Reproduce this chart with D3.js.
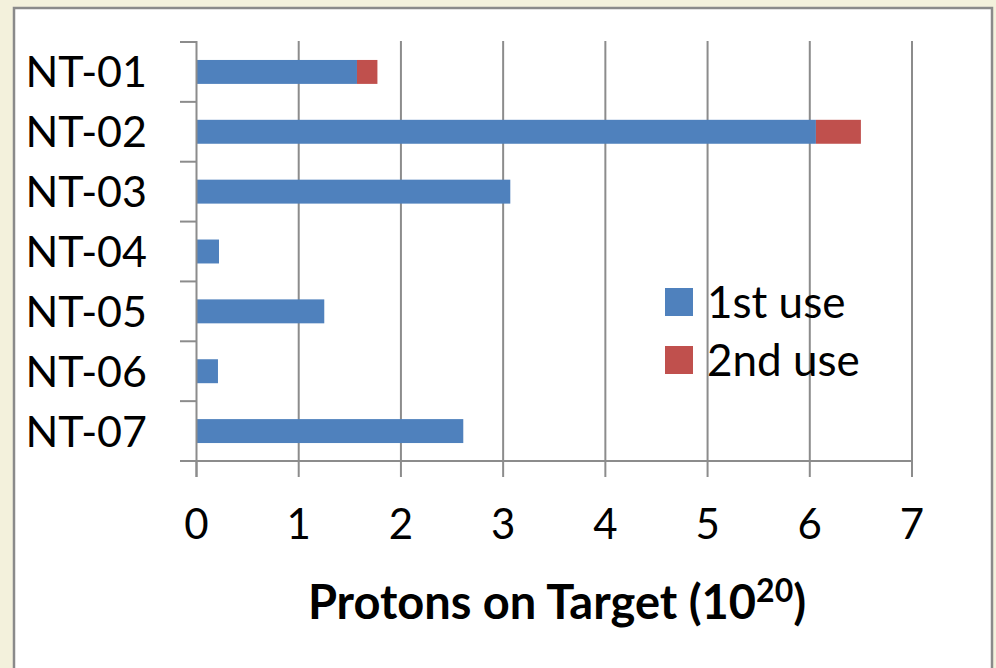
<!DOCTYPE html>
<html>
<head>
<meta charset="utf-8">
<script src="https://cdn.jsdelivr.net/npm/d3@7"></script>
<style>
  body { margin: 0; background: #f3f1dc; }
  svg { display: block; }
  text { font-family: Lato, "Open Sans", sans-serif; fill: #000; }
</style>
</head>
<body>
<svg id="chart" width="996" height="668"></svg>
<script>
// targets and protons on target (1e20)
var targets = ["NT-01", "NT-02", "NT-03", "NT-04", "NT-05", "NT-06", "NT-07"];
var firstUse = [1.57, 6.06, 3.07, 0.22, 1.25, 0.21, 2.61];
var secondUse = [0.20, 0.44, 0, 0, 0, 0, 0];
var xTicks = [0, 1, 2, 3, 4, 5, 6, 7];
var seriesNames = ["1st use", "2nd use"];
var colors = ["#4f81bd", "#c0504d"];

var svg = d3.select("#chart");

// white panel with grey frame
svg.append("rect")
  .attr("x", 14).attr("y", 8)
  .attr("width", 978).attr("height", 680)
  .attr("fill", "#fff")
  .attr("stroke", "#8a8a8a")
  .attr("stroke-width", 2.5);

var x = d3.scaleLinear().domain([0, 7]).range([196.5, 912]);
var y = d3.scaleBand().domain(targets).range([42, 461]).paddingInner(0.6).paddingOuter(0.3);

var rows = targets.map(function(t, i) {
  return {name: t, a: firstUse[i], b: secondUse[i]};
});

var g = svg.append("g");

// vertical gridlines
g.selectAll(".grid")
  .data(xTicks.slice(1))
  .enter().append("line")
  .attr("x1", function(d) { return x(d); })
  .attr("x2", function(d) { return x(d); })
  .attr("y1", 41).attr("y2", 461)
  .attr("stroke", "#8c8c8c").attr("stroke-width", 2);

// bars
g.selectAll(".b1")
  .data(rows)
  .enter().append("rect")
  .attr("x", x(0))
  .attr("y", function(d) { return y(d.name); })
  .attr("width", function(d) { return x(d.a) - x(0); })
  .attr("height", y.bandwidth())
  .attr("fill", colors[0]);

g.selectAll(".b2")
  .data(rows.filter(function(d) { return d.b > 0; }))
  .enter().append("rect")
  .attr("x", function(d) { return x(d.a); })
  .attr("y", function(d) { return y(d.name); })
  .attr("width", function(d) { return x(d.a + d.b) - x(d.a); })
  .attr("height", y.bandwidth())
  .attr("fill", colors[1]);

// y axis line and ticks (ticks between categories)
var yEdges = d3.range(targets.length + 1).map(function(i) { return 42 + i * (419 / targets.length); });
g.append("line")
  .attr("x1", x(0)).attr("x2", x(0))
  .attr("y1", 41).attr("y2", 477)
  .attr("stroke", "#8c8c8c").attr("stroke-width", 2);
g.selectAll(".ytick")
  .data(yEdges)
  .enter().append("line")
  .attr("x1", 180).attr("x2", x(0))
  .attr("y1", function(d) { return d; })
  .attr("y2", function(d) { return d; })
  .attr("stroke", "#8c8c8c").attr("stroke-width", 2);

// x axis line and ticks
g.append("line")
  .attr("x1", 180).attr("x2", x(7))
  .attr("y1", 461).attr("y2", 461)
  .attr("stroke", "#8c8c8c").attr("stroke-width", 2);
g.selectAll(".xtick")
  .data(xTicks)
  .enter().append("line")
  .attr("x1", function(d) { return x(d); })
  .attr("x2", function(d) { return x(d); })
  .attr("y1", 461).attr("y2", 477)
  .attr("stroke", "#8c8c8c").attr("stroke-width", 2);

// labels
g.selectAll(".ylab")
  .data(targets)
  .enter().append("text")
  .attr("x", 147)
  .attr("y", function(d) { return y(d) + y.bandwidth() / 2; })
  .attr("dy", "0.36em")
  .attr("text-anchor", "end")
  .attr("font-size", 43)
  .text(function(d) { return d; });

g.selectAll(".xlab")
  .data(xTicks)
  .enter().append("text")
  .attr("x", function(d) { return x(d); })
  .attr("y", 539)
  .attr("text-anchor", "middle")
  .attr("font-size", 42)
  .text(function(d) { return d; });

var title = g.append("text")
  .attr("x", 557).attr("y", 619)
  .attr("text-anchor", "middle")
  .attr("font-size", 47)
  .attr("font-weight", "bold");
title.append("tspan").text("Protons on Target (10");
title.append("tspan").attr("dy", -17).attr("font-size", 32).text("20");
title.append("tspan").attr("dy", 17).text(")");

// legend
var leg = g.selectAll(".leg")
  .data(seriesNames)
  .enter().append("g")
  .attr("transform", function(d, i) { return "translate(665," + (288 + i * 58) + ")"; });
leg.append("rect")
  .attr("width", 28).attr("height", 28)
  .attr("fill", function(d, i) { return colors[i]; });
leg.append("text")
  .attr("x", 42).attr("y", 14)
  .attr("dy", "0.36em")
  .attr("font-size", 44)
  .text(function(d) { return d; });
</script>
</body>
</html>
